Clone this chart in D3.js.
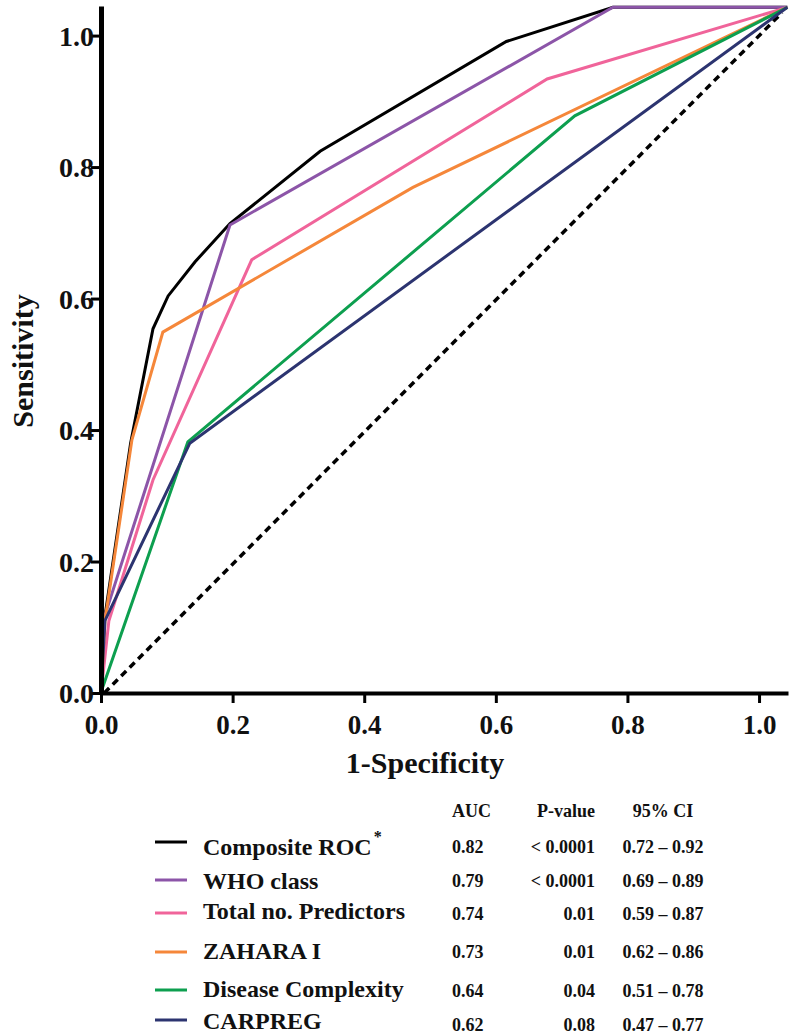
<!DOCTYPE html>
<html>
<head>
<meta charset="utf-8">
<script src="https://cdn.jsdelivr.net/npm/d3@7"></script>
<style>
  html, body { margin: 0; padding: 0; background: #fff; }
  svg { display: block; }
  svg text { font-family: "Liberation Serif", "DejaVu Serif", serif !important; font-weight: bold; fill: #111; }
</style>
</head>
<body>
<svg id="chart" width="792" height="1036"></svg>
<script>
// ---- data ----
const seriesNames = ["Composite ROC", "WHO class", "Total no. Predictors", "ZAHARA I", "Disease Complexity", "CARPREG"];
const seriesColors = ["#000000", "#8c55a8", "#f0649a", "#f5873a", "#0d9f4f", "#2c3470"];
const compositeROC = [[0,0],[0.005,0.11],[0.045,0.38],[0.079,0.554],[0.102,0.604],[0.143,0.656],[0.196,0.714],[0.333,0.824],[0.616,0.991],[0.778,1.043],[1.043,1.043]];
const whoClass = [[0,0],[0.005,0.115],[0.196,0.712],[0.778,1.043],[1.043,1.043]];
const totalPredictors = [[0,0],[0.012,0.11],[0.079,0.324],[0.229,0.659],[0.678,0.934],[1.043,1.043]];
const zaharaI = [[0,0],[0.006,0.11],[0.047,0.385],[0.094,0.549],[0.474,0.769],[1.043,1.043]];
const diseaseComplexity = [[0,0],[0.003,0.01],[0.132,0.382],[0.720,0.878],[1.043,1.043]];
const carpreg = [[0,0],[0.006,0.11],[0.135,0.380],[1.043,1.043]];
const referenceLine = [[0.005,0],[1.035,1.035]];
const xTicks = [0, 0.2, 0.4, 0.6, 0.8, 1.0];
const yTicks = [0, 0.2, 0.4, 0.6, 0.8, 1.0];
const aucValues = ["0.82", "0.79", "0.74", "0.73", "0.64", "0.62"];
const pValues = ["< 0.0001", "< 0.0001", "0.01", "0.01", "0.04", "0.08"];
const ciValues = ["0.72 – 0.92", "0.69 – 0.89", "0.59 – 0.87", "0.62 – 0.86", "0.51 – 0.78", "0.47 – 0.77"];
const tableHeaders = ["AUC", "P-value", "95% CI"];
const xTitle = "1-Specificity";
const yTitle = "Sensitivity";

const allSeries = [compositeROC, whoClass, totalPredictors, zaharaI, diseaseComplexity, carpreg];

// ---- layout ----
const FONT = '"Liberation Serif", "DejaVu Serif", serif';
const svg = d3.select("#chart");
const x = d3.scaleLinear().domain([0, 1.044]).range([101, 788]);
const y = d3.scaleLinear().domain([0, 1.045]).range([693, 6]);

const line = d3.line().x(d => x(d[0])).y(d => y(d[1]));

// reference diagonal
svg.append("path").datum(referenceLine)
  .attr("d", line).attr("fill", "none").attr("stroke", "#000")
  .attr("stroke-width", 3.5).attr("stroke-dasharray", "7,5");

// curves
allSeries.forEach((s, i) => {
  svg.append("path").datum(s)
    .attr("d", line).attr("fill", "none")
    .attr("stroke", seriesColors[i]).attr("stroke-width", 3)
    .attr("stroke-linejoin", "miter");
});

// axes
const xAxis = d3.axisBottom(x).tickValues(xTicks).tickFormat(d3.format(".1f")).tickSize(10).tickSizeOuter(0);
const yAxis = d3.axisLeft(y).tickValues(yTicks).tickFormat(d3.format(".1f")).tickSize(10).tickSizeOuter(0);

const gx = svg.append("g").attr("transform", "translate(0,693)").call(xAxis);
gx.attr("font-family", FONT);
gx.select(".domain").attr("stroke", "#000").attr("stroke-width", 4);
gx.selectAll(".tick line").attr("stroke", "#000").attr("stroke-width", 3);
gx.selectAll(".tick text").style("font-family", FONT).style("font-size", "27px").attr("fill", "#111").attr("dy", "1.05em");

const gy = svg.append("g").attr("transform", "translate(101,0)").call(yAxis);
gy.attr("font-family", FONT);
gy.select(".domain").attr("stroke", "#000").attr("stroke-width", 5);
gy.selectAll(".tick line").attr("stroke", "#000").attr("stroke-width", 3);
gy.selectAll(".tick text").style("font-family", FONT).style("font-size", "28px").attr("fill", "#111").attr("x", -7).attr("dy", "0.34em");

// axis titles
svg.append("text").attr("x", 425).attr("y", 773).attr("text-anchor", "middle")
  .style("font-size", "30px").text(xTitle);
svg.append("text").attr("transform", "translate(33,361) rotate(-90)").attr("text-anchor", "middle")
  .style("font-size", "30px").text(yTitle);

// legend / table
const lineRowY = [842, 880, 913, 952, 990, 1020];
const labelRowY = [855, 889, 919, 959, 997, 1029];
const numRowY = [853, 887, 920, 958, 997, 1031];

svg.append("text").attr("x", 452).attr("y", 817).style("font-size", "18px").text(tableHeaders[0]);
svg.append("text").attr("x", 595).attr("y", 817).style("font-size", "18px").attr("text-anchor", "end").text(tableHeaders[1]);
svg.append("text").attr("x", 663).attr("y", 817).style("font-size", "18px").attr("text-anchor", "middle").text(tableHeaders[2]);

seriesNames.forEach((name, i) => {
  svg.append("line").attr("x1", 155).attr("x2", 187)
    .attr("y1", lineRowY[i]).attr("y2", lineRowY[i])
    .attr("stroke", seriesColors[i]).attr("stroke-width", 3);
  const t = svg.append("text").attr("x", 203).attr("y", labelRowY[i]).style("font-size", "24px").text(name);
  if (i === 0) {
    t.append("tspan").attr("dx", 2).attr("dy", -13).style("font-size", "16px").text("*");
  }
  svg.append("text").attr("x", 452).attr("y", numRowY[i]).style("font-size", "18px").text(aucValues[i]);
  svg.append("text").attr("x", 595).attr("y", numRowY[i]).style("font-size", "18px").attr("text-anchor", "end").text(pValues[i]);
  svg.append("text").attr("x", 663).attr("y", numRowY[i]).style("font-size", "18px").attr("text-anchor", "middle").text(ciValues[i]);
});
</script>
</body>
</html>
